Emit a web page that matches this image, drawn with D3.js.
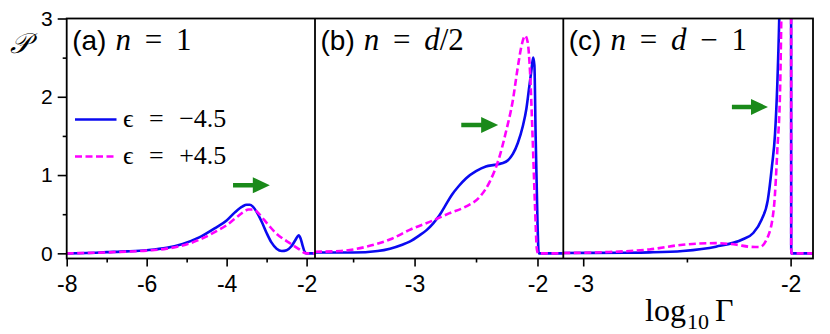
<!DOCTYPE html>
<html>
<head>
<meta charset="utf-8">
<script src="https://cdn.jsdelivr.net/npm/d3@7/dist/d3.min.js"></script>
<style>
  body { margin: 0; background: #fff; }
  svg text { fill: #000; }
</style>
</head>
<body>
<div id="container"></div>
<script>
// valores: [log10 Gamma, P]
const blueA = [[-8,0],[-7.5,0.005],[-7,0.015],[-6.5,0.025],[-6,0.04],[-5.5,0.07],[-5.1,0.12],[-4.7,0.2],
  [-4.3,0.32],[-4.0,0.42],[-3.8,0.52],[-3.6,0.6],[-3.5,0.62],[-3.42,0.62],[-3.35,0.6],[-3.25,0.53],
  [-3.12,0.4],[-3.0,0.26],[-2.88,0.14],[-2.75,0.06],[-2.62,0.03],[-2.5,0.04],[-2.38,0.09],[-2.28,0.17],
  [-2.2,0.23],[-2.15,0.19],[-2.1,0.1],[-2.05,0.02],[-2.0,0],[-1.79,0]];
const magentaA = [[-8,0],[-7.5,0.005],[-7,0.012],[-6.5,0.022],[-6,0.035],[-5.5,0.06],[-5.1,0.1],[-4.7,0.17],
  [-4.3,0.27],[-4.0,0.36],[-3.8,0.44],[-3.6,0.52],[-3.45,0.56],[-3.32,0.56],[-3.2,0.51],[-3.05,0.42],
  [-2.9,0.33],[-2.75,0.25],[-2.6,0.19],[-2.45,0.14],[-2.3,0.09],[-2.15,0.04],[-2.05,0.005],[-2.0,0],[-1.79,0]];
const blueB = [[-3.81,0.01],[-3.5,0.01],[-3.3,0.03],[-3.2,0.06],[-3.1,0.11],[-3.04,0.15],[-2.96,0.23],
  [-2.9,0.3],[-2.85,0.38],[-2.8,0.48],[-2.75,0.61],[-2.7,0.74],[-2.64,0.86],[-2.58,0.96],[-2.5,1.05],
  [-2.42,1.11],[-2.35,1.13],[-2.29,1.15],[-2.24,1.19],[-2.2,1.27],[-2.16,1.41],[-2.12,1.62],[-2.09,1.85],
  [-2.07,2.09],[-2.05,2.33],[-2.035,2.5],[-2.025,2.4],[-2.015,1.5],[-2.0,0.4],[-1.99,0],[-1.79,0]];
const magentaB = [[-3.81,0.02],[-3.6,0.03],[-3.39,0.085],[-3.18,0.19],[-3.04,0.3],[-2.85,0.42],[-2.72,0.51],
  [-2.58,0.6],[-2.47,0.72],[-2.39,0.91],[-2.31,1.23],[-2.26,1.53],[-2.2,1.96],[-2.16,2.38],[-2.13,2.65],
  [-2.1,2.78],[-2.08,2.7],[-2.06,2.3],[-2.04,1.5],[-2.02,0.6],[-2.005,0.05],[-1.995,0],[-1.79,0]];
const blueC = [[-3.096,0.005],[-2.8,0.008],[-2.68,0.012],[-2.52,0.03],[-2.36,0.085],[-2.23,0.18],
  [-2.18,0.26],[-2.14,0.43],[-2.11,0.68],[-2.09,1.11],[-2.075,1.53],[-2.064,2.17],[-2.055,2.98],
  [-2.048,4],[-2.02,6],[-1.998,6],[-1.997,0],[-1.892,0]];
const magentaC = [[-3.096,0.005],[-2.9,0.015],[-2.68,0.05],[-2.52,0.11],[-2.36,0.13],[-2.26,0.11],
  [-2.2,0.085],[-2.15,0.08],[-2.11,0.21],[-2.08,0.6],[-2.064,1.32],[-2.05,2.17],[-2.045,2.98],
  [-2.04,4],[-2.02,6],[-1.998,6],[-1.997,0],[-1.892,0]];

const panelDomains = [[-8, -1.79], [-3.81, -1.79], [-3.096, -1.892]];
const majorTicks = [[-8, -6, -4, -2], [-3, -2], [-3, -2]];
const minorTicks = [[-7, -5, -3], [-3.5, -2.5], [-2.5]];
const panelTags = ['(a)', '(b)', '(c)'];
const panelMath = [['n', ' = 1'], ['n', ' = ', 'd', '/2'], ['n', ' = ', 'd', ' \u2212 1']];
// flechas verdes: [cola, punta, altura] en unidades de datos
const arrows = [[-3.84, -2.92, 0.87], [-2.62, -2.32, 1.64], [-2.283, -2.109, 1.87]];
const yMajor = [0, 1, 2, 3];
const yMinor = [0.5, 1.5, 2.5];
const legendLabels = ['\u03f5 = \u22124.5', '\u03f5 = +4.5'];

const width = 830, height = 334;
const plotTop = 18.5, plotBottom = 258.5;
const edges = [66.7, 315, 563.3, 813];
const blue = '#0a0af0', magenta = '#ff00ff', green = '#1a8a1a';
const sans = 'Liberation Sans, Arial, sans-serif';
const serif = 'Liberation Serif, DejaVu Serif, serif';

const svg = d3.select('#container').append('svg')
  .attr('width', width).attr('height', height);

const y = d3.scaleLinear().domain([-0.066, 3]).range([plotBottom, plotTop]);

const series = [[blueA, magentaA], [blueB, magentaB], [blueC, magentaC]];

panelDomains.forEach((dom, i) => {
  const x = d3.scaleLinear().domain(dom).range([edges[i], edges[i + 1]]);

  svg.append('clipPath').attr('id', 'clip' + i)
    .append('rect')
      .attr('x', edges[i]).attr('y', plotTop)
      .attr('width', edges[i + 1] - edges[i]).attr('height', plotBottom - plotTop);

  const line = d3.line()
    .x(d => x(d[0]))
    .y(d => y(d[1]))
    .curve(d3.curveMonotoneX);

  const g = svg.append('g').attr('clip-path', `url(#clip${i})`);
  g.append('path')
    .datum(series[i][0])
    .attr('fill', 'none')
    .attr('stroke', blue)
    .attr('stroke-width', 2.6)
    .attr('d', line);
  g.append('path')
    .datum(series[i][1])
    .attr('fill', 'none')
    .attr('stroke', magenta)
    .attr('stroke-width', 2.6)
    .attr('stroke-dasharray', '7 3.5')
    .attr('d', line);

  // ejes x
  const ax = svg.append('g')
    .attr('transform', `translate(0,${plotBottom})`)
    .call(d3.axisBottom(x).tickValues(majorTicks[i]).tickSize(8).tickSizeOuter(0)
      .tickFormat(d => String(d)));
  ax.select('.domain').remove();
  ax.selectAll('line').attr('stroke-width', 1.6);
  ax.selectAll('text')
    .attr('y', 17)
    .style('font-family', sans)
    .style('font-size', '23px');

  const axm = svg.append('g')
    .attr('transform', `translate(0,${plotBottom})`)
    .call(d3.axisBottom(x).tickValues(minorTicks[i]).tickSize(4).tickSizeOuter(0).tickFormat(''));
  axm.select('.domain').remove();
  axm.selectAll('line').attr('stroke-width', 1.6);

  // flecha
  const a = arrows[i];
  const x0 = x(a[0]), x1 = x(a[1]), ya = y(a[2]);
  const hl = 17, hh = 8, sh = 2.3;
  svg.append('path')
    .attr('fill', green)
    .attr('d', `M${x0},${ya - sh}L${x1 - hl},${ya - sh}L${x1 - hl},${ya - hh}L${x1},${ya}` +
      `L${x1 - hl},${ya + hh}L${x1 - hl},${ya + sh}L${x0},${ya + sh}Z`);

  // etiqueta del panel
  const t = svg.append('text')
    .attr('x', edges[i] + 5.5)
    .attr('y', 50);
  t.append('tspan')
    .style('font-family', sans).style('font-size', '28px')
    .text(panelTags[i]);
  panelMath[i].forEach((s, k) => {
    t.append('tspan')
      .attr('dx', k === 0 ? 9 : 0)
      .style('font-family', serif).style('font-size', '31px')
      .style('font-style', /^[a-z]$/.test(s) ? 'italic' : 'normal')
      .style('word-spacing', '6px')
      .text(s);
  });
});

// eje y
const ay = svg.append('g')
  .attr('transform', `translate(${edges[0]},0)`)
  .call(d3.axisLeft(y).tickValues(yMajor).tickSize(9).tickSizeOuter(0).tickFormat(d => String(d)));
ay.select('.domain').remove();
ay.selectAll('line').attr('stroke-width', 1.6);
ay.selectAll('text')
  .attr('x', -14)
  .style('font-family', sans)
  .style('font-size', '21px');
const aym = svg.append('g')
  .attr('transform', `translate(${edges[0]},0)`)
  .call(d3.axisLeft(y).tickValues(yMinor).tickSize(4).tickSizeOuter(0).tickFormat(''));
aym.select('.domain').remove();
aym.selectAll('line').attr('stroke-width', 1.6);

// marco y separadores
const frame = svg.append('g').attr('stroke', '#000').attr('stroke-width', 1.8).attr('fill', 'none');
frame.append('rect')
  .attr('x', edges[0]).attr('y', plotTop)
  .attr('width', edges[3] - edges[0]).attr('height', plotBottom - plotTop);
[edges[1], edges[2]].forEach(ex => {
  frame.append('line')
    .attr('x1', ex).attr('x2', ex)
    .attr('y1', plotTop).attr('y2', plotBottom);
});

// leyenda
legendLabels.forEach((lab, k) => {
  const ly = 119.5 + k * 37;
  svg.append('line')
    .attr('x1', 75).attr('x2', 116.5)
    .attr('y1', ly).attr('y2', ly)
    .attr('stroke', k === 0 ? blue : magenta)
    .attr('stroke-width', 2.6)
    .attr('stroke-dasharray', k === 0 ? null : '7 3.5');
  svg.append('text')
    .attr('x', 123)
    .attr('y', ly + 7.5)
    .style('font-family', serif)
    .style('font-size', '26px')
    .style('word-spacing', '9px')
    .text(lab);
});

// rotulos de ejes
svg.append('text')
  .attr('x', 20).attr('y', 53)
  .attr('text-anchor', 'middle')
  .style('font-family', serif)
  .style('font-size', '28px')
  .style('font-style', 'italic')
  .text('\ud835\udcab');

const xl = svg.append('text')
  .attr('x', 645).attr('y', 321)
  .style('font-family', serif);
xl.append('tspan').style('font-size', '32px').text('log');
xl.append('tspan').attr('dy', 8).attr('dx', 1).style('font-size', '22px').text('10');
xl.append('tspan').attr('dy', -8).attr('dx', 6).style('font-size', '32px').text('\u0393');
</script>
</body>
</html>
